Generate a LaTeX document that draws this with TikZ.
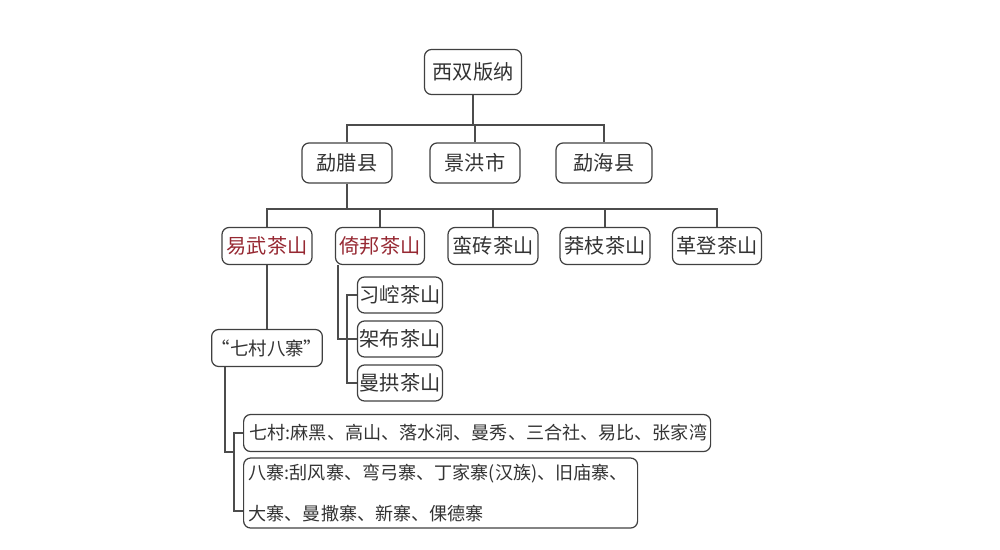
\documentclass[tikz,border=0pt]{standalone}
\usepackage{fontspec}
\setmainfont{Noto Sans CJK SC}
\begin{document}
\begin{tikzpicture}[x=0.02cm,y=-0.02cm,
  bx/.style={draw=black!75,rounded corners=4pt,line width=0.7pt,font=\fontsize{11.5}{13}\selectfont,text=black!80,inner sep=0pt},
  w/.style={minimum width=#1*0.02cm},
  h/.style={minimum height=#1*0.02cm},
  ln/.style={draw=black!70,line width=0.7pt},
  red/.style={text={rgb,255:red,150;green,40;blue,50}}]
\useasboundingbox (0,0) rectangle (1000,549);
\node[bx,w=97,h=45] (r) at (473,72) {西双版纳};
\node[bx,w=90,h=40] (ml) at (347,163) {勐腊县};
\node[bx,w=90,h=40] (jh) at (475,163) {景洪市};
\node[bx,w=96,h=40] (mh) at (604,163) {勐海县};
\node[bx,red,w=90,h=37] (yw) at (267,246) {易武茶山};
\node[bx,red,w=89,h=37] (yb) at (380,246) {倚邦茶山};
\node[bx,w=90,h=37] (mz) at (493,246) {蛮砖茶山};
\node[bx,w=90,h=37] (mzh) at (605,246) {莽枝茶山};
\node[bx,w=89,h=37] (gd) at (717,246) {革登茶山};
\node[bx,w=85,h=36] (xk) at (400,295) {习崆茶山};
\node[bx,w=85,h=36] (jb) at (400,339) {架布茶山};
\node[bx,w=85,h=36] (mg) at (400,383) {曼拱茶山};
\node[bx,w=90,h=37,font=\fontsize{10.5}{13}\selectfont] (qc) at (267,348) {“七村八寨”};
\node[bx,w=467,h=37,anchor=west,text width=9.1cm,inner xsep=0.1cm,align=left,font=\fontsize{10.3}{13}\selectfont] (c7) at (243,433) {七村:麻黑、高山、落水洞、曼秀、三合社、易比、张家湾};
\node[bx,w=394,h=70,anchor=west,text width=7.68cm,inner xsep=0.1cm,align=left,font=\fontsize{10.3}{23}\selectfont] (z8) at (243,493) {八寨:刮风寨、弯弓寨、丁家寨(汉族)、旧庙寨、\\大寨、曼撒寨、新寨、倮德寨};
\coordinate (b1) at (473,125);
\draw[ln] (r.south) -- (b1);
\draw[ln] (ml.north) |- (b1) -| (mh.north);
\draw[ln] (jh.north) -- (jh.north |- b1);
\coordinate (b2) at (347,209);
\draw[ln] (ml.south) -- (b2);
\draw[ln] (yw.north) |- (b2) -| (gd.north);
\draw[ln] (yb.north) -- (yb.north |- b2);
\draw[ln] (mz.north) -- (mz.north |- b2);
\draw[ln] (mzh.north) -- (mzh.north |- b2);
\draw[ln] (yw.south) -- (qc.north);
\draw[ln] ([xshift=-0.84cm]yb.south) |- (jb.west);
\draw[ln] (xk.west) -- ++(-10,0) |- (mg.west);
\coordinate (b3) at (234,452);
\draw[ln] ([xshift=-0.84cm]qc.south) |- (b3);
\draw[ln] (c7.west) -- ++(-9,0) |- ([yshift=-0.36cm]z8.west);
\end{tikzpicture}
\end{document}
